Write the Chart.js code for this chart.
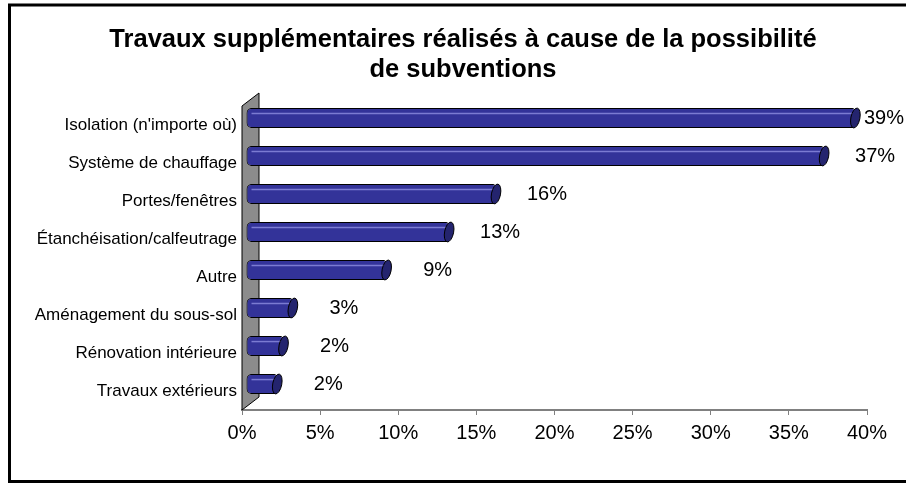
<!DOCTYPE html>
<html>
<head>
<meta charset="utf-8">
<script src="https://cdn.jsdelivr.net/npm/chart.js@4/dist/chart.umd.min.js"></script>
<style>
  body { margin: 0; background: #fff; }
</style>
</head>
<body>
<canvas id="myChart" width="906" height="484"></canvas>
<script>
var titleLines = ["Travaux supplémentaires réalisés à cause de la possibilité", "de subventions"];
var categories = ["Isolation (n'importe où)", "Système de chauffage", "Portes/fenêtres", "Étanchéisation/calfeutrage", "Autre", "Aménagement du sous-sol", "Rénovation intérieure", "Travaux extérieurs"];
var values = [39, 37, 16, 13, 9, 3, 2.4, 2];
var tickLabels = ["0%", "5%", "10%", "15%", "20%", "25%", "30%", "35%", "40%"];

var FONT = 'Arial, "Liberation Sans", sans-serif';

// fake 3D: wall on the left and bars pushed back into the depth
var frame3d = {
    id: 'frame3d',
    beforeDraw: function (chart) {
        var c = chart.ctx;
        c.save();
        c.fillStyle = '#fff';
        c.fillRect(0, 0, chart.width, chart.height);
        c.lineWidth = 3;
        c.strokeStyle = '#000';
        c.strokeRect(9.5, 5, chart.width + 10, chart.height - 7.5);
        // title, centred over the plot like the original
        c.font = 'bold 25.5px ' + FONT;
        c.fillStyle = '#000';
        c.textAlign = 'center';
        c.textBaseline = 'alphabetic';
        titleLines.forEach(function (line, i) {
            c.fillText(line, 463, 47 + i * 30);
        });
        c.restore();
    },
    beforeDatasetsDraw: function (chart) {
        var a = chart.chartArea, c = chart.ctx;
        c.save();
        c.beginPath();
        c.moveTo(a.left, a.bottom);
        c.lineTo(a.left, a.top);
        c.lineTo(a.left + 17, a.top - 13);
        c.lineTo(a.left + 17, a.bottom - 13);
        c.closePath();
        c.fillStyle = '#8c8c8c';
        c.fill();
        c.lineWidth = 1;
        c.strokeStyle = '#000';
        c.stroke();
        c.restore();
        c.save();
        c.translate(4, -7);
    },
    afterDatasetsDraw: function (chart) {
        var c = chart.ctx;
        var meta = chart.getDatasetMeta(0);
        meta.data.forEach(function (bar) {
            var h = bar.height;
            var top = bar.y - h / 2;
            c.strokeStyle = '#7b7bd2';
            c.lineWidth = 1.5;
            c.beginPath();
            c.moveTo(bar.base + 5, top + h * 0.28);
            c.lineTo(bar.x - 2, top + h * 0.28);
            c.stroke();
            c.beginPath();
            c.ellipse(bar.x, bar.y, 4.5, h / 2, 0.2, 0, Math.PI * 2);
            c.fillStyle = '#24246e';
            c.fill();
            c.strokeStyle = '#000';
            c.lineWidth = 1;
            c.stroke();
        });
        c.restore();

        c.save();
        c.font = '20px ' + FONT;
        c.fillStyle = '#000';
        c.textAlign = 'center';
        c.textBaseline = 'middle';
        meta.data.forEach(function (bar, i) {
            var text = Math.round(values[i]) + '%';
            var w = c.measureText(text).width;
            var x = Math.min(bar.x + 55, chart.width - 2 - w / 2);
            c.fillText(text, x, bar.y - 7);
        });
        c.restore();
    }
};

new Chart("myChart", {
    type: "bar",
    data: {
        labels: categories,
        datasets: [{
            data: values,
            backgroundColor: "#333399",
            borderColor: "#000",
            borderWidth: 1,
            borderSkipped: false,
            borderRadius: { topLeft: 5, bottomLeft: 5, topRight: 3, bottomRight: 3 },
            barPercentage: 0.53,
            categoryPercentage: 1,
            clip: false
        }]
    },
    options: {
        indexAxis: 'y',
        responsive: false,
        animation: false,
        layout: { padding: { left: 10, right: 39, top: 106, bottom: 10 } },
        plugins: {
            legend: { display: false },
            tooltip: { enabled: false },
            title: { display: false }
        },
        scales: {
            x: {
                min: 0,
                max: 40,
                ticks: {
                    stepSize: 5,
                    color: '#000',
                    font: { family: FONT, size: 20 },
                    padding: 6,
                    callback: function (v, i) { return tickLabels[i]; }
                },
                grid: { drawOnChartArea: false, tickLength: 5, color: '#808080' },
                border: { color: '#808080', width: 2 },
                afterFit: function (s) { s.height = 64; }
            },
            y: {
                ticks: { color: '#000', font: { family: FONT, size: 17 }, padding: 5 },
                grid: { display: false, drawTicks: false },
                border: { display: false },
                afterFit: function (s) { s.width = 232; }
            }
        }
    },
    plugins: [frame3d]
});
</script>
</body>
</html>
